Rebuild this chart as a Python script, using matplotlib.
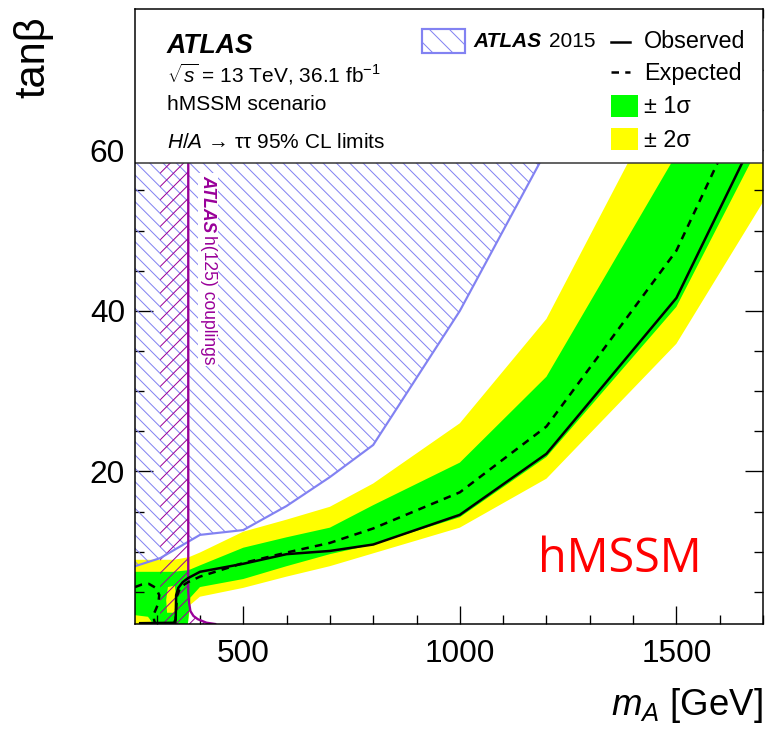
import matplotlib
matplotlib.use("Agg")
import matplotlib.pyplot as plt
from matplotlib.patches import Polygon, Rectangle
from matplotlib.ticker import FixedLocator, MultipleLocator

plt.rcParams["font.family"] = ["Liberation Sans", "DejaVu Sans"]
plt.rcParams["mathtext.fontset"] = "custom"
plt.rcParams["mathtext.rm"] = "Liberation Sans"
plt.rcParams["mathtext.it"] = "Liberation Sans:italic"
plt.rcParams["mathtext.bf"] = "Liberation Sans:bold"
plt.rcParams["hatch.linewidth"] = 0.6

# expected-limit bands (mA in GeV, tan beta)
mass = [250, 280, 292, 340, 372, 378, 400, 500, 600, 700, 800, 1000, 1200, 1500, 2000]
yellow_up = [9.0, 9.0, 9.0, 9.0, 9.3, 9.4, 9.9, 12.5, 14.0, 15.6, 18.5, 26.0, 39.0, 70.0, 130.0]
green_up = [7.5, 7.5, 7.5, 7.5, 7.7, 7.8, 8.3, 10.5, 11.8, 13.0, 15.8, 21.1, 31.8, 59.5, 110.0]
green_dn = [2.1, 1.9, 1.0, 1.0, 1.0, 4.3, 5.6, 6.6, 8.2, 9.7, 10.9, 14.3, 21.8, 40.5, 93.0]
yellow_dn = [1.0, 1.0, 1.0, 1.0, 1.0, 3.4, 4.4, 5.5, 6.9, 8.2, 9.8, 13.0, 19.1, 35.9, 80.0]

# small 2 sigma island at low mass
island_m = [324, 342, 346, 342, 326, 322]
island_t = [2.4, 2.4, 4.0, 5.8, 5.6, 4.0]

# expected limit: low-mass piece and main contour
exp_lo_m = [250, 265, 282, 298, 306, 304, 298, 293, 294, 297]
exp_lo_t = [5.6, 5.9, 6.0, 5.5, 4.6, 3.6, 2.8, 2.2, 1.5, 1.0]
exp_m = [343, 347, 355, 372, 400, 500, 600, 700, 800, 1000, 1200, 1500, 2000]
exp_t = [1.0, 4.5, 5.6, 6.2, 6.9, 8.6, 9.9, 11.1, 12.9, 17.4, 25.6, 47.5, 105.0]

# observed limit
obs_m = [262, 340, 344, 345, 350, 360, 372, 400, 500, 600, 700, 800, 1000, 1200, 1500, 2000]
obs_t = [1.1, 1.15, 1.6, 4.6, 5.5, 6.2, 6.7, 7.5, 8.5, 9.7, 10.1, 10.9, 14.6, 22.2, 41.6, 97.0]

# ATLAS 2015 exclusion boundary
old_m = [250, 308, 400, 500, 600, 700, 800, 1000, 1200, 1300]
old_t = [8.2, 9.2, 12.1, 12.7, 15.7, 19.3, 23.3, 40.0, 60.0, 80.0]

# h(125) couplings boundary
hc_m = [373, 373, 375, 378, 385, 395, 415, 435]
hc_t = [80.0, 5.0, 3.6, 2.6, 2.0, 1.6, 1.16, 1.0]
hc_width = 65  # hatched side band, GeV

XMIN, XMAX = 250, 1700
YMIN, YMAX = 1, 77.6
BOX_Y = 58.45

BLUE = "#8282f2"
PURPLE = "#990099"
HATCH_BLUE = "\\" * 3
HATCH_PURPLE = "/" * 3

W, H, DPI = 767, 729, 120
fig = plt.figure(figsize=(W / DPI, H / DPI), dpi=DPI)
ax = fig.add_axes([135 / W, 1 - 624 / H, (763 - 135) / W, (624 - 9) / H])
ax.set_xlim(XMIN, XMAX)
ax.set_ylim(YMIN, YMAX)

ax.fill_between(mass, yellow_dn, yellow_up, color="#ffff00", lw=0, zorder=1)
ax.fill_between(mass, green_dn, green_up, color="#00ff00", lw=0, zorder=1.1)
ax.add_patch(Polygon(list(zip(island_m, island_t)), closed=True,
                     facecolor="#ffff00", lw=0, zorder=1.2))

# 2015 exclusion, hatched above the boundary
old_poly = list(zip(old_m, old_t)) + [(old_m[-1], 90), (XMIN - 10, 90), (XMIN - 10, old_t[0])]
ax.add_patch(Polygon(old_poly, closed=True, facecolor="none", edgecolor=BLUE,
                     lw=0, hatch=HATCH_BLUE, zorder=2))
ax.plot(old_m, old_t, color=BLUE, lw=1.3, zorder=3)

# h(125) couplings exclusion
hc_poly = [(hc_m[0] - hc_width, 90)] + list(zip(hc_m, hc_t)) + [(hc_m[0] - hc_width, hc_t[-1])]
hc_poly[1] = (hc_m[0], 90)
ax.add_patch(Polygon(hc_poly, closed=True, facecolor="none", edgecolor=PURPLE,
                     lw=0, hatch=HATCH_PURPLE, zorder=2.1))
ax.plot(hc_m, hc_t, color=PURPLE, lw=1.4, zorder=3.5)

ax.plot(exp_lo_m, exp_lo_t, color="black", lw=1.5, dashes=(3, 2.5), zorder=4)
ax.plot(exp_m, exp_t, color="black", lw=1.5, dashes=(3, 2.5), zorder=4)
ax.plot(obs_m, obs_t, color="black", lw=1.5, zorder=4.1)

# white panel holding the legend
ax.add_patch(Rectangle((XMIN, BOX_Y), XMAX - XMIN, YMAX - BOX_Y,
                       facecolor="white", edgecolor="none", zorder=5))
ax.axhline(BOX_Y, color="#333333", lw=0.9, zorder=5.1)

ax.xaxis.set_major_locator(FixedLocator([500, 1000, 1500]))
ax.xaxis.set_minor_locator(MultipleLocator(100))
ax.yaxis.set_major_locator(FixedLocator([20, 40, 60]))
ax.yaxis.set_minor_locator(MultipleLocator(5))
ax.tick_params(which="both", direction="in", top=True, right=True, width=0.8,
               labelsize=19, zorder=6)
ax.tick_params(which="major", length=11)
ax.tick_params(which="minor", length=5.5)
ax.tick_params(axis="x", pad=9)
ax.tick_params(axis="y", pad=6)
for s in ax.spines.values():
    s.set_linewidth(0.9)
    s.set_zorder(6)

# overlay in pixel units for labels and legend
ov = fig.add_axes([0, 0, 1, 1], zorder=10)
ov.set_xlim(0, W)
ov.set_ylim(H, 0)
ov.axis("off")

ov.text(33, 57, "tanβ", fontsize=25, rotation=90, ha="center", va="center")
ov.text(763, 715, r"$m_{A}$ [GeV]", fontsize=22, ha="right", va="baseline")

ov.text(167, 53, "ATLAS", fontsize=16, fontweight="bold", fontstyle="italic", va="baseline")
ov.text(167, 82, r"$\sqrt{s}$ = 13 TeV, 36.1 fb$^{-1}$", fontsize=12.5, va="baseline")
ov.text(167, 110, "hMSSM scenario", fontsize=12.5, va="baseline")
ov.text(167, 148, r"$H/A$ → ττ 95% CL limits", fontsize=12.5, va="baseline")

ov.add_patch(Rectangle((422, 29), 43, 24, facecolor="none", edgecolor=BLUE,
                       lw=1.3, hatch="\\" * 2))
ov.text(473, 47, "ATLAS", fontsize=12.5, fontweight="bold", fontstyle="italic", va="baseline")
ov.text(549, 47, "2015", fontsize=12.5, va="baseline")

ov.plot([611, 630], [42, 42], color="black", lw=1.5)
ov.plot([611, 630], [72, 72], color="black", lw=1.5, dashes=(3, 2.5))
ov.add_patch(Rectangle((611, 95), 27, 22, facecolor="#00ff00", lw=0))
ov.add_patch(Rectangle((611, 128), 27, 22, facecolor="#ffff00", lw=0))
ov.text(644, 48, "Observed", fontsize=14, va="baseline")
ov.text(644, 80, "Expected", fontsize=14, va="baseline")
ov.text(644, 113, "± 1σ", fontsize=14, va="baseline")
ov.text(644, 147, "± 2σ", fontsize=14, va="baseline")

ov.text(208, 175, "ATLAS", fontsize=10.5, fontweight="bold", fontstyle="italic",
        color=PURPLE, rotation=-90, ha="center", va="top",
        bbox=dict(facecolor="white", edgecolor="none", pad=1))
ov.text(208, 235, "h(125) couplings", fontsize=10.5, color=PURPLE, rotation=-90,
        ha="center", va="top", bbox=dict(facecolor="white", edgecolor="none", pad=1))

ov.text(538, 572, "hMSSM", fontsize=28, color="red", family="Open Sans", va="baseline")

fig.savefig("out.png", dpi=DPI)
